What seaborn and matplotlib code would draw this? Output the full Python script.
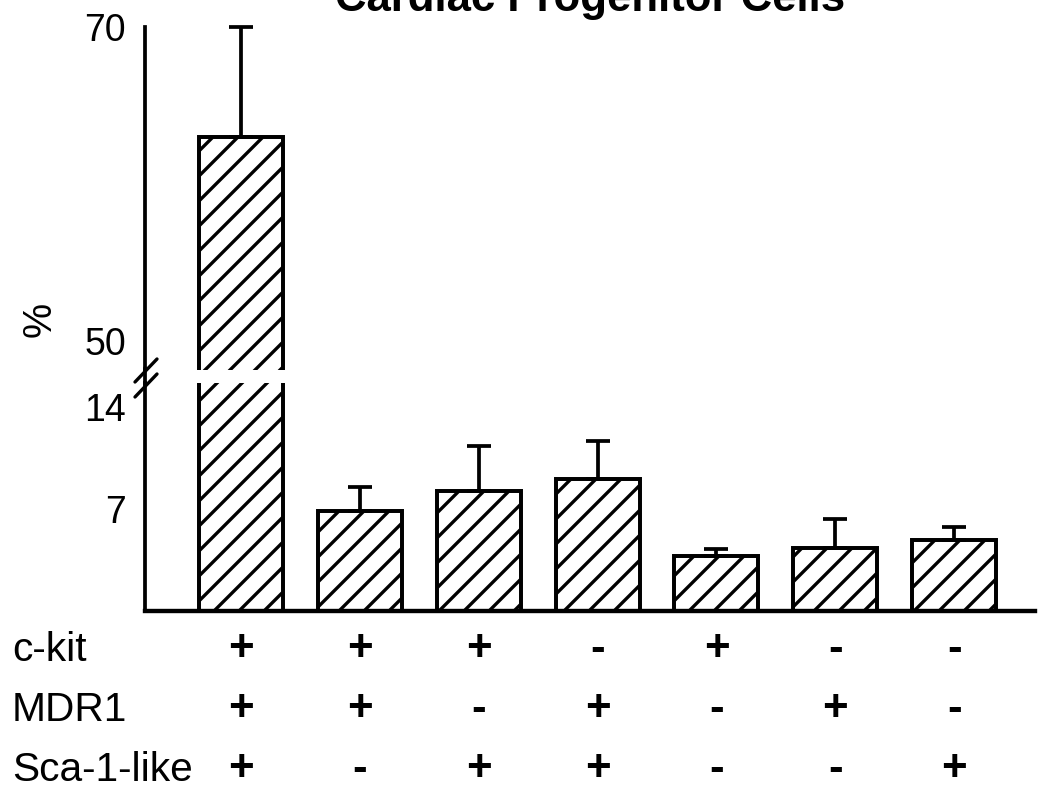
import matplotlib.pyplot as plt
import matplotlib.transforms as mtransforms
import numpy as np
import pandas as pd
import seaborn as sns
from matplotlib.lines import Line2D

groups = ["+++", "++-", "+-+", "-++", "+--", "-+-", "--+"]
percent = [63.0, 6.85, 8.25, 9.1, 3.75, 4.35, 4.85]
err_up = [7.0, 1.7, 3.1, 2.6, 0.5, 2.0, 0.95]
row_names = ["c-kit", "MDR1", "Sca-1-like"]
ckit = ["+", "+", "+", "-", "+", "-", "-"]
mdr1 = ["+", "+", "-", "+", "-", "+", "-"]
sca1 = ["+", "-", "+", "+", "-", "-", "+"]

df = pd.DataFrame({"group": groups, "percent": percent})

sns.set_style("white")
plt.rcParams["font.family"] = ["Liberation Sans", "DejaVu Sans"]
plt.rcParams["hatch.color"] = "black"
plt.rcParams["hatch.linewidth"] = 1.6
plt.rcParams["text.color"] = "black"
plt.rcParams["axes.edgecolor"] = "black"

W, H, DPI = 1039, 794, 150
fig = plt.figure(figsize=(W / DPI, H / DPI), dpi=DPI)
ax_top = fig.add_axes([145 / W, 1 - 370 / H, 890 / W, 343 / H])
ax_bot = fig.add_axes([145 / W, 1 - 611 / H, 890 / W, 228 / H])

for ax in (ax_top, ax_bot):
    sns.barplot(data=df, x="group", y="percent", order=groups, color="white",
                edgecolor="black", linewidth=1.9, hatch="//", width=0.707,
                errorbar=None, ax=ax)
    ax.set_xlim(-0.808, 6.68)
    ax.set_xlabel("")
    ax.set_ylabel("")
    ax.set_xticks([])
    for s in ("top", "right"):
        ax.spines[s].set_visible(False)
    ax.spines["left"].set_linewidth(1.8)
    ax.tick_params(axis="y", direction="in", length=9.5, width=1.8, pad=9,
                   labelsize=18, colors="black")

ax_top.set_ylim(48.15, 70)
ax_top.set_yticks([50, 70])
ax_top.spines["bottom"].set_visible(False)
ax_bot.set_ylim(0, 15.67)
ax_bot.set_yticks([7, 14])
ax_bot.spines["bottom"].set_linewidth(2.1)

x = np.arange(len(groups))
pct = np.array(percent)
err = np.array(err_up)
ax_top.errorbar(x[:1], pct[:1], yerr=[np.zeros(1), err[:1]], fmt="none",
                ecolor="black", elinewidth=1.8, capsize=5.8, capthick=1.8,
                clip_on=False)
ax_bot.errorbar(x[1:], pct[1:], yerr=[np.zeros(6), err[1:]], fmt="none",
                ecolor="black", elinewidth=1.8, capsize=5.8, capthick=1.8)

# continuous spine through the break and the two slashes
fig.add_artist(Line2D([145 / W, 145 / W], [1 - 368 / H, 1 - 385 / H],
                      transform=fig.transFigure, color="black", lw=1.8))
for y0 in (382, 397):
    fig.add_artist(Line2D([135 / W, 157 / W], [1 - y0 / H, 1 - (y0 - 23) / H],
                          transform=fig.transFigure, color="black", lw=1.6))

fig.text(590 / W, 1 - 11 / H, "Cardiac Progenitor Cells", ha="center",
         va="baseline", fontsize=21, fontweight="bold")
fig.text(40 / W, 1 - 319 / H, "%", rotation=90, ha="center", va="center",
         fontsize=19)

trans = mtransforms.blended_transform_factory(ax_bot.transData, fig.transFigure)
for name, signs, base in zip(row_names, [ckit, mdr1, sca1], [661, 721, 781]):
    fig.text(12 / W, 1 - base / H, name, ha="left", va="baseline", fontsize=19.5)
    for xi, s in zip(x, signs):
        fig.text(xi, 1 - base / H, s, transform=trans, ha="center",
                 va="baseline", fontsize=21, fontweight="bold")

fig.savefig("out.png", dpi=DPI)
